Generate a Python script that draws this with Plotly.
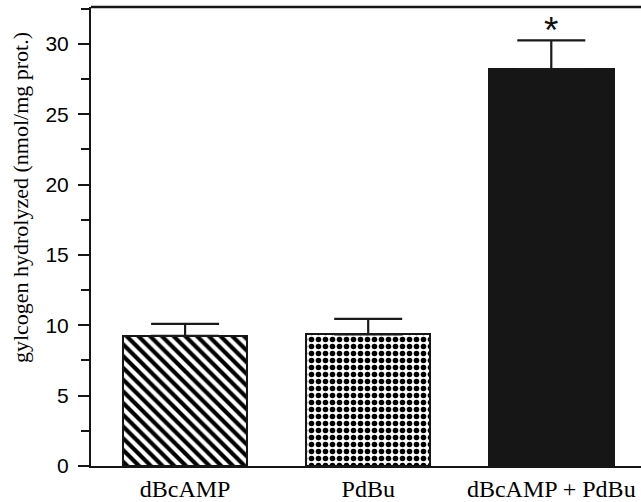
import plotly.graph_objects as go

categories = ["dBcAMP", "PdBu", "dBcAMP + PdBu"]
values = [9.25, 9.35, 28.2]
errors = [0.85, 1.1, 2.05]
significance = ["", "", "*"]
y_ticks = [0, 5, 10, 15, 20, 25, 30]
y_title = "gylcogen hydrolyzed (nmol/mg prot.)"

patterns = [
    dict(shape="\\", size=8.3, solidity=0.5, fgcolor="black", bgcolor="white", fillmode="replace"),
    dict(shape=".", size=7, solidity=0.5, fgcolor="black", bgcolor="white", fillmode="replace"),
    dict(shape="", fgcolor="#161616", bgcolor="#161616"),
]
colors = ["white", "white", "#161616"]

fig = go.Figure()
for i, (c, v, e) in enumerate(zip(categories, values, errors)):
    fig.add_trace(go.Bar(
        x=[i], y=[v], width=0.68,
        marker=dict(color=colors[i], pattern=patterns[i],
                    line=dict(color="#161616", width=2)),
        error_y=dict(type="data", array=[e], arrayminus=[0], symmetric=False,
                     color="#1a1a1a", thickness=2.2, width=34),
        showlegend=False,
    ))

for i, (v, e, s) in enumerate(zip(values, errors, significance)):
    if s:
        fig.add_annotation(x=i, y=v + e, text=s, showarrow=False, yanchor="bottom",
                           yshift=-13, font=dict(family="Liberation Sans", size=37, color="#111111"))

fig.add_annotation(xref="paper", yref="paper", x=-0.127, y=0.584, text=y_title,
                   textangle=-90, showarrow=False, xanchor="center", yanchor="middle",
                   font=dict(family="Liberation Serif", size=22, color="black"))

fig.add_shape(type="line", xref="paper", yref="paper", x0=0, x1=1.01, y0=1, y1=1,
              line=dict(color="#161616", width=2.5))

fig.update_layout(
    width=641, height=502,
    margin=dict(l=91, r=0, t=7, b=36),
    paper_bgcolor="white", plot_bgcolor="white",
    bargap=0,
    xaxis=dict(
        range=[-0.514, 2.49], tickmode="array", tickvals=list(range(len(categories))),
        ticktext=categories, ticks="", showline=True, linecolor="#161616", linewidth=2,
        showgrid=False, zeroline=False,
        tickfont=dict(family="Liberation Serif", size=24, color="black"),
    ),
    yaxis=dict(
        range=[0, 32.62], tickmode="array", tickvals=y_ticks, ticks="outside",
        ticklen=11, tickwidth=2, tickcolor="#161616", showline=True, linecolor="#161616",
        linewidth=2, showgrid=False, zeroline=False, ticklabelstandoff=5,
        tickfont=dict(family="Liberation Sans", size=21, color="black"),
        minor=dict(dtick=2.5, tick0=0, ticks="outside", ticklen=8, tickwidth=2,
                   tickcolor="#161616", showgrid=False),
    ),
)

fig.write_html("out.html")
